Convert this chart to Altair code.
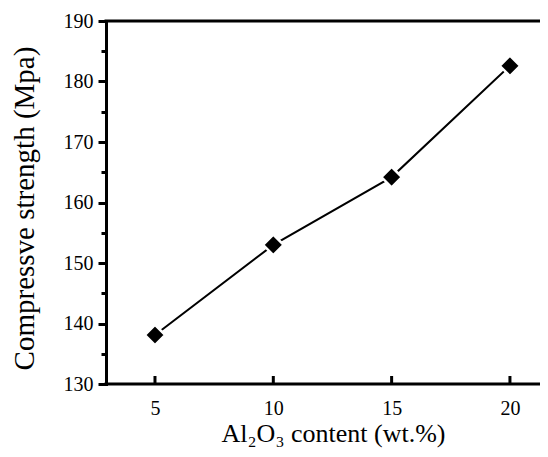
import altair as alt
import pandas as pd

# Data
al2o3 = [5, 10, 15, 20]
strength = [138.1, 153.0, 164.2, 182.6]
x_ticks = [5, 10, 15, 20]
y_ticks = [130, 135, 140, 145, 150, 155, 160, 165, 170, 175, 180, 185, 190]

W, H = 434, 363
FONT = "'Liberation Serif', 'Times New Roman', Times, serif"

df = pd.DataFrame({"x": al2o3, "y": strength})

xscale = alt.Scale(domain=[2.93, 21.27], nice=False, zero=False)
yscale = alt.Scale(domain=[130, 190], nice=False, zero=False)

x_axis = alt.Axis(
    values=x_ticks, domain=False, ticks=False, grid=False,
    labelFont=FONT, labelFontSize=20, labelColor="black", labelPadding=14,
    title="Al₂O₃ content (wt.%)", titleFont=FONT, titleFontSize=26,
    titleFontWeight="normal", titleColor="black",
    titleX=227, titleY=57, titleAlign="center", titleBaseline="alphabetic",
)
y_axis = alt.Axis(
    values=y_ticks, grid=False,
    domain=True, domainColor="black", domainWidth=3, domainCap="square",
    ticks=True, tickColor="black", tickWidth=3,
    tickSize={"condition": {"test": "datum.value % 10 === 0", "value": 8}, "value": 5},
    labelExpr="datum.value % 10 === 0 ? datum.label : ''",
    labelFont=FONT, labelFontSize=20, labelColor="black", labelPadding=5,
    title="Compressve strength (Mpa)", titleFont=FONT, titleFontSize=29,
    titleFontWeight="normal", titleColor="black",
    titleX=-73, titleY=187, titleAlign="center", titleBaseline="alphabetic",
)

line = alt.Chart(df).mark_line(color="black", strokeWidth=2).encode(
    x=alt.X("x:Q", scale=xscale, axis=x_axis),
    y=alt.Y("y:Q", scale=yscale, axis=y_axis),
)

points = alt.Chart(df).mark_point(
    shape="diamond", filled=True, fill="black", stroke="white",
    strokeWidth=2.5, size=420, opacity=1,
).encode(
    x=alt.X("x:Q", scale=xscale, axis=x_axis),
    y=alt.Y("y:Q", scale=yscale, axis=y_axis),
)

xt = alt.Chart(pd.DataFrame({"x": x_ticks})).mark_rule(
    color="black", strokeWidth=3
).encode(
    x=alt.X("x:Q", scale=xscale, axis=x_axis),
    y=alt.value(H),
    y2=alt.value(H - 8),
)

frame = pd.DataFrame({"k": [0]})
top_rule = alt.Chart(frame).mark_rule(color="black", strokeWidth=3, strokeCap="square").encode(
    x=alt.value(0), x2=alt.value(W + 10), y=alt.value(0)
)
bottom_rule = alt.Chart(frame).mark_rule(color="black", strokeWidth=3, strokeCap="square").encode(
    x=alt.value(0), x2=alt.value(W + 10), y=alt.value(H)
)

chart = alt.layer(line, points, xt, top_rule, bottom_rule).properties(
    width=W, height=H,
    autosize=alt.AutoSizeParams(type="none"),
    padding={"left": 98, "top": 13, "right": 0, "bottom": 64},
    background="white",
).configure_view(stroke=None).configure_axis(labelFont=FONT, titleFont=FONT)

chart.save("out.html", embed_options={"renderer": "svg", "actions": False})
